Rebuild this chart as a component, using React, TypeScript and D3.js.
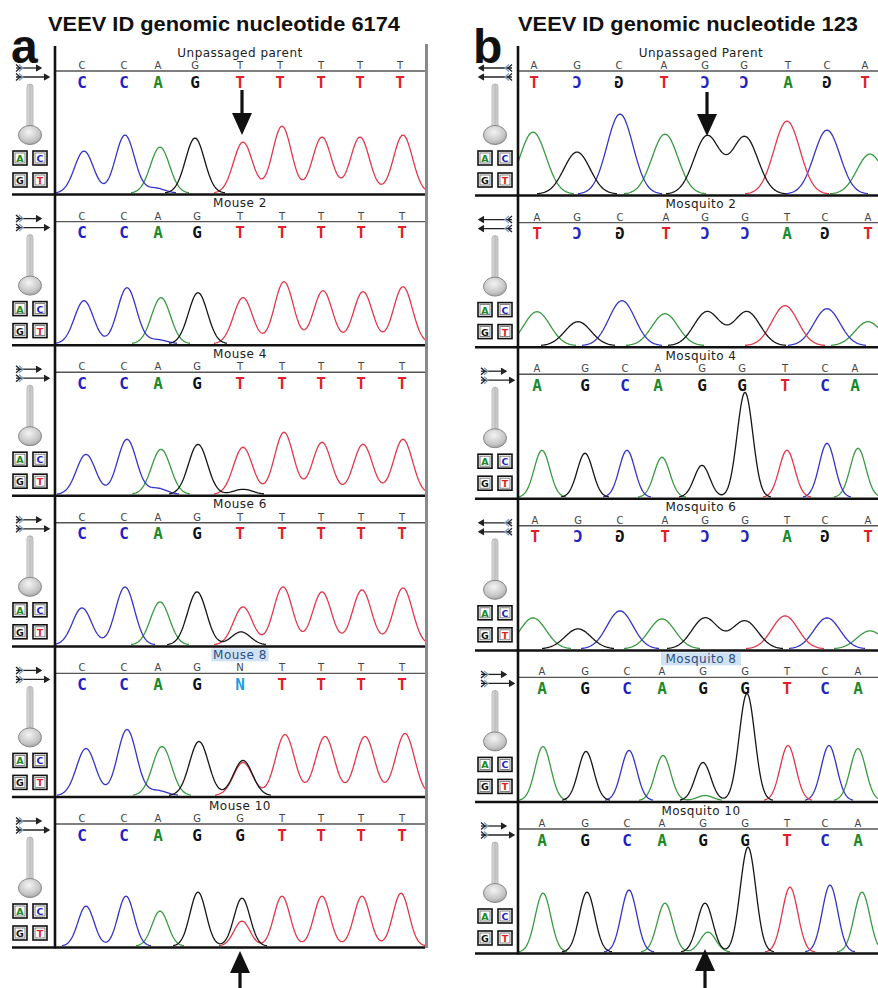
import React from "react";
import * as d3 from "d3";

// ---- data ----
const titleA = "VEEV ID genomic nucleotide 6174";
const titleB = "VEEV ID genomic nucleotide 123";

const namesA = ["Unpassaged parent", "Mouse 2", "Mouse 4", "Mouse 6", "Mouse 8", "Mouse 10"];
const namesB = ["Unpassaged Parent", "Mosquito 2", "Mosquito 4", "Mosquito 6", "Mosquito 8", "Mosquito 10"];
const highlighted = [false, false, false, false, true, false];

const callsA = ["CCAGTTTTT", "CCAGTTTTT", "CCAGTTTTT", "CCAGTTTTT", "CCAGNTTTT", "CCAGGTTTT"];
const callsB = ["AGCAGGTCA", "AGCAGGTCA", "AGCAGGTCA", "AGCAGGTCA", "AGCAGGTCA", "AGCAGGTCA"];
const reverseB = [true, true, false, true, false, false];

// base-call positions in scan units
const callPosA = [
  [27, 69, 103, 140, 185, 225, 266, 305, 345],
  [27, 69, 103, 142, 185, 227, 266, 306, 347],
  [27, 69, 103, 142, 185, 227, 266, 306, 347],
  [27, 69, 103, 142, 185, 227, 266, 306, 347],
  [27, 69, 103, 142, 185, 227, 266, 306, 347],
  [27, 69, 103, 142, 185, 227, 266, 306, 347],
];
const callPosB = [
  [16, 59, 101, 146, 187, 226, 270, 309, 347],
  [19, 59, 102, 148, 187, 227, 269, 307, 350],
  [19, 67, 107, 140, 184, 224, 267, 307, 337],
  [17, 60, 102, 147, 187, 227, 269, 307, 350],
  [24, 67, 109, 144, 185, 227, 269, 307, 340],
  [24, 67, 109, 144, 185, 227, 269, 307, 340],
];

// peaks: [base, scan position, signal]
type Peak = [string, number, number];
const peaksA: Peak[][] = [
  [["C", 29, 42], ["C", 70, 58], ["C", 100, 5], ["A", 105, 46], ["G", 140, 55], ["T", 188, 51], ["T", 227, 67], ["T", 267, 56], ["T", 305, 56], ["T", 348, 58]],
  [["C", 29, 43], ["C", 72, 56], ["C", 102, 4], ["A", 106, 46], ["G", 143, 51], ["T", 188, 46], ["T", 229, 62], ["T", 268, 53], ["T", 308, 52], ["T", 348, 57]],
  [["C", 31, 40], ["C", 72, 55], ["C", 102, 6], ["A", 106, 45], ["G", 143, 50], ["G", 188, 5], ["T", 188, 47], ["T", 229, 62], ["T", 267, 52], ["T", 308, 50], ["T", 348, 55]],
  [["C", 27, 37], ["C", 70, 58], ["A", 105, 43], ["G", 142, 53], ["G", 186, 13], ["T", 188, 38], ["T", 228, 58], ["T", 267, 53], ["T", 307, 55], ["T", 348, 57]],
  [["C", 31, 47], ["C", 72, 66], ["C", 102, 5], ["A", 107, 49], ["G", 144, 54], ["G", 188, 35], ["T", 188, 33], ["T", 230, 61], ["T", 270, 59], ["T", 310, 59], ["T", 350, 62]],
  [["C", 31, 40], ["C", 71, 50], ["A", 105, 35], ["G", 143, 54], ["G", 187, 48], ["T", 187, 25], ["T", 227, 50], ["T", 267, 50], ["T", 307, 50], ["T", 346, 53]],
];
const peaksB: Peak[][] = [
  [["A", 15, 62], ["G", 59, 42], ["C", 102, 80], ["A", 147, 60], ["G", 189, 58], ["G", 227, 57], ["T", 269, 73], ["C", 309, 64], ["A", 352, 40]],
  [["A", 19, 34], ["G", 60, 24], ["C", 104, 45], ["A", 147, 32], ["G", 189, 34], ["G", 229, 34], ["T", 267, 40], ["C", 309, 37], ["A", 350, 24]],
  [["A", 24, 47], ["G", 67, 44], ["C", 109, 47], ["A", 144, 40], ["G", 184, 32], ["G", 227, 105], ["T", 269, 47], ["C", 309, 54], ["A", 340, 49]],
  [["A", 15, 31], ["G", 60, 20], ["C", 102, 38], ["A", 144, 30], ["G", 187, 31], ["G", 227, 28], ["T", 267, 33], ["C", 309, 31], ["A", 352, 18]],
  [["A", 25, 54], ["G", 68, 49], ["C", 111, 50], ["A", 145, 45], ["G", 185, 38], ["A", 187, 5], ["G", 229, 107], ["T", 270, 55], ["C", 311, 55], ["A", 340, 52]],
  [["A", 25, 59], ["G", 69, 60], ["C", 111, 62], ["A", 147, 49], ["G", 187, 49], ["A", 190, 20], ["G", 230, 105], ["T", 272, 65], ["C", 312, 67], ["A", 344, 60]],
];
const widthA = [9.5, 9.5, 9.5, 9.5, 9.5, 8];
const widthB = [13, 13, 7.8, 13, 7.8, 7.8];

const mutationA = 188;
const mutationB = 189;

// ---- styling ----
const LETTER: Record<string, string> = { A: "#1c8a2a", C: "#2222c4", G: "#111111", T: "#e01f2a", N: "#1a9fe2" };
const TRACE: Record<string, string> = { A: "#3a9a42", C: "#3434c8", G: "#161616", T: "#e2384a" };
const COMPLEMENT: Record<string, string> = { A: "T", C: "G", G: "C", T: "A" };
const MIRRORED: Record<string, boolean> = { C: true, G: true };

const W = 878;
const H = 988;

function trace(peaks: Peak[], base: string, sigma: number, max: number): [number, number][] {
  const own = peaks.filter((p) => p[0] === base);
  if (!own.length) return [];
  return d3.range(0, max + 0.5, 1).map((s) => {
    let v = 0;
    own.forEach(([, p, h]) => (v += h * Math.exp(-((s - p) * (s - p)) / (2 * sigma * sigma))));
    return [s, v] as [number, number];
  });
}

function Icons({ cx, top, reverse }: { cx: number; top: number; reverse: boolean }) {
  const arrow = (y: number, x0: number, x1: number, key: string) => {
    // x1 = arrowhead end, x0 = feathered tail
    const dir = x1 > x0 ? 1 : -1;
    return (
      <g key={key} stroke="#222" strokeWidth={1.3} fill="none">
        <line x1={x0} y1={y} x2={x1} y2={y} />
        <path d={`M${x1 - dir * 5},${y - 3} L${x1},${y} L${x1 - dir * 5},${y + 3}`} fill="#222" />
        <path d={`M${x0},${y - 3.5} L${x0 + dir * 4},${y} L${x0},${y + 3.5}`} />
        <path d={`M${x0 + dir * 3},${y - 3.5} L${x0 + dir * 7},${y} L${x0 + dir * 3},${y + 3.5}`} stroke="#7a9cc8" />
      </g>
    );
  };
  const boxes: [string, number, number][] = [
    ["A", cx - 17, top + 107],
    ["C", cx + 3, top + 107],
    ["G", cx - 17, top + 129],
    ["T", cx + 3, top + 129],
  ];
  return (
    <g>
      {reverse
        ? [arrow(top + 24, cx + 17, cx - 16, "a1"), arrow(top + 33, cx + 17, cx - 16, "a2")]
        : [arrow(top + 24, cx - 14, cx + 11, "a1"), arrow(top + 33, cx - 14, cx + 19, "a2")]}
      <rect x={cx - 3} y={top + 40} width={6} height={46} rx={3} fill="url(#bar)" stroke="#aaa" strokeWidth={0.8} />
      <ellipse cx={cx} cy={top + 91} rx={11.5} ry={9.5} fill="url(#knob)" stroke="#888" strokeWidth={1} />
      {boxes.map(([b, x, y]) => (
        <g key={b}>
          <rect x={x} y={y} width={14} height={14} fill="#fff" stroke="#111" strokeWidth={1.6} />
          <rect x={x + 2} y={y + 2} width={10} height={10} fill="#fff" stroke="#666" strokeWidth={0.8} />
          <text x={x + 7} y={y + 11} textAnchor="middle" fontFamily="DejaVu Sans" fontWeight="bold" fontSize={9.5} fill={LETTER[b]}>
            {b}
          </text>
        </g>
      ))}
    </g>
  );
}

function Panel(props: {
  left: number;
  right: number;
  domainMax: number;
  lineLeft: number;
  iconX: number;
  rowTop: number;
  rowStep: number;
  names: string[];
  calls: string[];
  callPos: number[][];
  peaks: Peak[][];
  widths: number[];
  reverse: boolean[];
  titleX: number;
  id: string;
}) {
  const { left, right, domainMax, lineLeft, iconX, rowTop, rowStep, names, calls, callPos, peaks, widths, reverse, titleX, id } = props;
  const x = d3.scaleLinear().domain([0, domainMax]).range([left, right]);
  const tops = d3.range(names.length + 1).map((i) => rowTop + i * rowStep);
  return (
    <g>
      <defs>
        <clipPath id={`clip-${id}`}>
          <rect x={left} y={0} width={right - left} height={H} />
        </clipPath>
      </defs>
      {names.map((name, i) => {
        const top = tops[i];
        const base = tops[i + 1] - 1.5;
        const y = d3.scaleLinear().domain([0, 110]).range([base, base - 110]);
        const line = d3
          .line<[number, number]>()
          .defined((d) => d[1] > 0.35)
          .x((d) => x(d[0]))
          .y((d) => y(d[1]));
        const rev = reverse[i];
        const nameW = name.length * 7.6 + 4;
        return (
          <g key={name}>
            <Icons cx={iconX} top={top} reverse={rev} />
            {highlighted[i] && <rect x={titleX - nameW / 2} y={top + 2} width={nameW} height={13} fill="#cfe2f4" />}
            <text
              x={titleX}
              y={top + 12.5}
              textAnchor="middle"
              fontFamily="DejaVu Sans"
              fontSize={12}
              letterSpacing={0.5}
              fill={highlighted[i] ? "#2b4f82" : "#222"}
            >
              {name}
            </text>
            <line x1={left} x2={right} y1={top + 27} y2={top + 27} stroke="#555" strokeWidth={1.4} />
            {calls[i].split("").map((c, k) => {
              const px = x(callPos[i][k]);
              const big = rev ? COMPLEMENT[c] : c;
              const flip = rev && MIRRORED[big];
              return (
                <g key={k}>
                  <text x={px} y={top + 25} textAnchor="middle" fontFamily="DejaVu Sans" fontSize={10} fill="#444">
                    {c}
                  </text>
                  <text
                    transform={`translate(${px},${top + 43.5})${flip ? " scale(-1,1)" : ""}`}
                    textAnchor="middle"
                    fontFamily="DejaVu Sans Mono"
                    fontWeight="bold"
                    fontSize={16}
                    fill={LETTER[big]}
                  >
                    {big}
                  </text>
                </g>
              );
            })}
            <g clipPath={`url(#clip-${id})`} fill="none" strokeWidth={1.3}>
              {["A", "C", "T", "G"].map((b) => {
                const pts = trace(peaks[i], b, widths[i], domainMax);
                return pts.length ? <path key={b} d={line(pts) || ""} stroke={TRACE[b]} /> : null;
              })}
            </g>
            <line x1={lineLeft} x2={right} y1={tops[i + 1]} y2={tops[i + 1]} stroke="#111" strokeWidth={2.5} />
          </g>
        );
      })}
      <line x1={left} x2={left} y1={rowTop + 2} y2={tops[names.length] + 1} stroke="#111" strokeWidth={2.6} />
    </g>
  );
}

function Pointer({ x, tip, tail }: { x: number; tip: number; tail: number }) {
  const dir = tail > tip ? 1 : -1;
  const head = tip + dir * 22;
  return (
    <g fill="#111">
      <rect x={x - 1.6} y={Math.min(head, tail)} width={3.2} height={Math.abs(tail - head)} />
      <path d={`M${x},${tip} L${x - 10},${head} L${x + 10},${head} Z`} />
    </g>
  );
}

export default function App() {
  const xa = d3.scaleLinear().domain([0, 370]).range([55, 425]);
  const xb = d3.scaleLinear().domain([0, 360]).range([518, 878]);
  return (
    <svg width={W} height={H} style={{ position: "absolute", left: 0, top: 0 }}>
      <defs>
        <linearGradient id="bar" x1="0" x2="1" y1="0" y2="0">
          <stop offset="0" stopColor="#e8e8e8" />
          <stop offset="0.5" stopColor="#bdbdbd" />
          <stop offset="1" stopColor="#d8d8d8" />
        </linearGradient>
        <radialGradient id="knob" cx="0.45" cy="0.35" r="0.7">
          <stop offset="0" stopColor="#f4f4f4" />
          <stop offset="0.7" stopColor="#c4c4c4" />
          <stop offset="1" stopColor="#9a9a9a" />
        </radialGradient>
      </defs>
      <rect width={W} height={H} fill="#fff" />

      <text x={224} y={31} textAnchor="middle" fontFamily="Liberation Sans" fontWeight="bold" fontSize={19.5} fill="#111" textLength={352} lengthAdjust="spacingAndGlyphs">
        {titleA}
      </text>
      <text x={688} y={31} textAnchor="middle" fontFamily="Liberation Sans" fontWeight="bold" fontSize={19.5} fill="#111" textLength={340} lengthAdjust="spacingAndGlyphs">
        {titleB}
      </text>
      <text x={11} y={63} fontFamily="Liberation Sans" fontWeight="bold" fontSize={48} fill="#111">a</text>
      <text x={473} y={63} fontFamily="Liberation Sans" fontWeight="bold" fontSize={48} fill="#111">b</text>

      <line x1={426.5} x2={426.5} y1={44} y2={948} stroke="#8a8a8a" strokeWidth={3} />

      <Panel
        id="a"
        left={55}
        right={425}
        domainMax={370}
        lineLeft={12}
        iconX={30}
        rowTop={44}
        rowStep={150.6}
        names={namesA}
        calls={callsA}
        callPos={callPosA}
        peaks={peaksA}
        widths={widthA}
        reverse={[false, false, false, false, false, false]}
        titleX={240}
      />
      <Panel
        id="b"
        left={518}
        right={878}
        domainMax={360}
        lineLeft={475}
        iconX={495}
        rowTop={44}
        rowStep={151.6}
        names={namesB}
        calls={callsB}
        callPos={callPosB}
        peaks={peaksB}
        widths={widthB}
        reverse={reverseB}
        titleX={701}
      />

      <Pointer x={xa(mutationA) - 1} tip={135} tail={90} />
      <Pointer x={xb(mutationB)} tip={136} tail={92} />
      <Pointer x={xa(mutationA) - 3} tip={951} tail={988} />
      <Pointer x={xb(mutationB) - 2} tip={949} tail={988} />
    </svg>
  );
}
